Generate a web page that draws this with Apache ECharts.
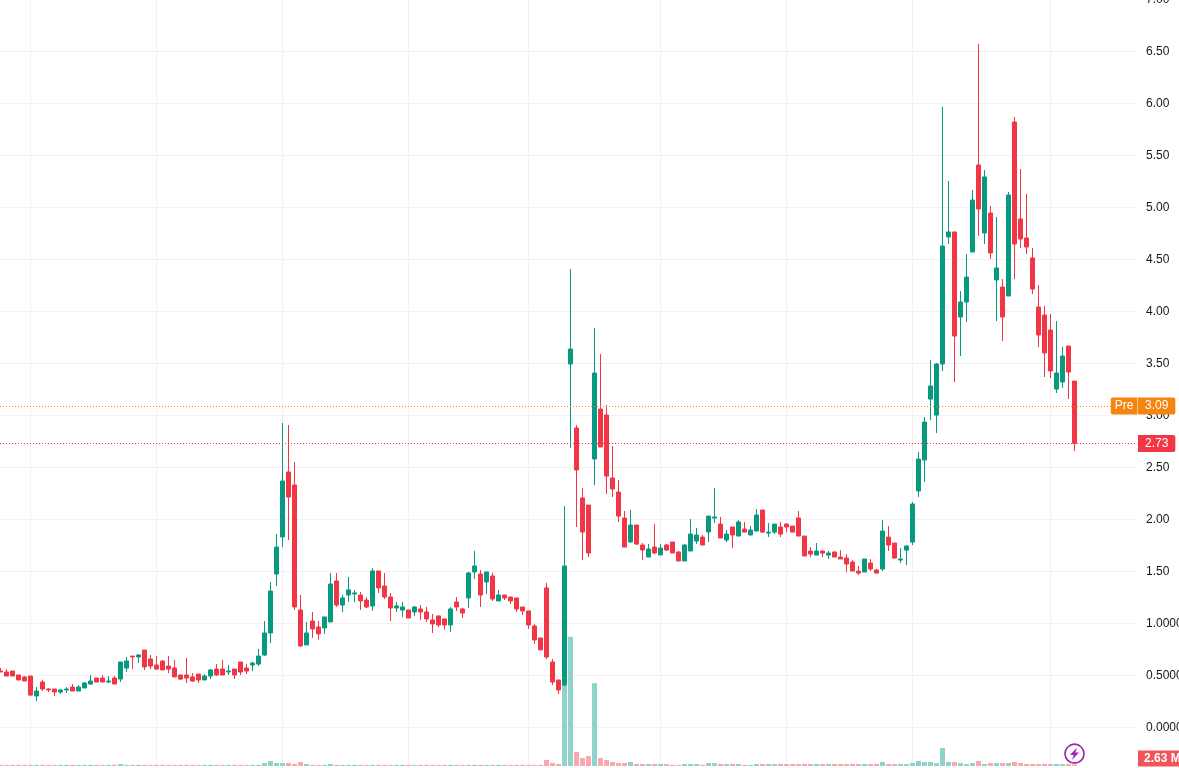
<!DOCTYPE html>
<html><head><meta charset="utf-8">
<style>html,body{margin:0;padding:0;background:#fff;overflow:hidden}#c{width:1179px;height:768px}</style>
<script src="https://cdn.jsdelivr.net/npm/echarts@6/dist/echarts.min.js"></script>
</head><body><div id="c"></div>
<script>
const opens=[.541,.532,.541,.503,.484,.493,.301,.435,.368,.368,.339,.359,.387,.349,.378,.416,.474,.474,.435,.474,
.464,.570,.685,.676,.743,.657,.599,.637,.589,.570,.503,.503,.484,.512,.455,.493,.560,.560,.532,.560,
.628,.570,.599,.608,.695,.907,1.474,1.83,2.455,2.33,1.128,.792,1.022,.965,.955,1.013,1.407,1.176,1.272,1.282,
1.272,1.224,1.167,1.503,1.359,1.253,1.147,1.128,1.128,1.109,1.138,1.109,1.032,1.071,1.042,.984,1.205,1.138,1.244,1.494,
1.474,1.398,1.455,1.215,1.272,1.253,1.244,1.157,1.119,.974,.859,1.34,.628,.455,.407,3.493,2.878,2.205,2.137,2.58,
3.06,3.003,2.397,2.262,2.012,1.781,1.945,1.753,1.637,1.733,1.657,1.753,1.782,1.685,1.599,1.695,1.791,1.829,1.878,2.012,
1.954,1.801,1.926,1.839,1.906,1.849,1.887,2.089,1.868,1.877,1.926,1.954,1.935,2.012,1.839,1.695,1.656,1.695,1.656,1.685,
1.637,1.627,1.589,1.502,1.493,1.579,1.512,1.522,1.829,1.772,1.608,1.704,1.781,2.272,2.57,3.156,3.002,3.493,4.715,4.763,
3.945,4.089,4.57,5.407,4.753,4.945,4.301,4.233,4.147,5.82,4.888,4.705,4.513,4.041,3.964,3.82,3.252,3.32,3.666,3.329];
const closes=[.532,.493,.493,.455,.445,.310,.349,.368,.359,.339,.359,.368,.349,.387,.426,.445,.435,.435,.445,.416,
.628,.637,.676,.695,.580,.589,.560,.551,.560,.484,.464,.474,.445,.455,.493,.551,.503,.503,.541,.503,
.532,.541,.618,.685,.907,1.31,1.733,2.368,2.214,1.157,.782,.907,.946,.898,1.061,1.378,1.176,1.244,1.321,1.292,
1.215,1.157,1.503,1.34,1.253,1.147,1.167,1.157,1.051,1.157,1.109,1.042,.994,.984,.984,1.138,1.157,1.099,1.484,1.551,
1.272,1.494,1.234,1.272,1.244,1.215,1.138,1.119,.984,.84,.744,.676,.436,.359,1.551,3.637,2.474,1.878,1.676,3.406,
2.695,2.416,2.291,2.031,1.733,1.945,1.762,1.705,1.714,1.676,1.724,1.705,1.676,1.599,1.753,1.858,1.849,1.753,2.031,2.022,
1.82,1.858,1.849,1.974,1.877,1.897,2.041,1.877,1.877,1.954,1.858,1.926,1.877,1.839,1.647,1.666,1.695,1.675,1.675,1.637,
1.618,1.57,1.502,1.483,1.618,1.522,1.483,1.887,1.752,1.627,1.618,1.743,2.147,2.579,2.935,3.281,3.493,4.628,4.763,3.762,
4.089,4.329,5.07,4.984,5.292,4.561,4.417,3.945,5.118,4.647,4.695,4.618,4.214,3.772,3.599,3.426,3.406,3.57,3.416,2.73];
const lows=[.532,.493,.493,.455,.445,.301,.253,.349,.339,.301,.320,.330,.349,.349,.378,.407,.435,.435,.426,.416,
.435,.532,.560,.618,.551,.560,.551,.551,.522,.484,.455,.426,.435,.426,.455,.464,.493,.503,.503,.464,
.503,.512,.541,.589,.685,.81,1.358,1.733,1.801,1.128,.773,.792,.859,.84,.898,1.013,1.157,1.109,1.205,1.205,
1.128,1.147,1.119,1.292,1.234,1.022,1.109,1.061,1.051,1.071,1.032,1.013,.907,.965,.936,.917,1.119,1.051,1.147,1.426,
1.157,1.282,1.215,1.215,1.224,1.186,1.109,1.08,.946,.801,.744,.657,.407,.321,.397,2.685,1.926,1.608,1.637,2.33,
2.695,2.243,2.214,1.974,1.733,1.781,1.753,1.608,1.637,1.666,1.657,1.695,1.676,1.599,1.599,1.695,1.762,1.753,1.782,1.964,
1.82,1.781,1.724,1.839,1.877,1.849,1.887,1.868,1.829,1.858,1.829,1.877,1.877,1.839,1.647,1.637,1.656,1.637,1.618,1.637,
1.618,1.493,1.502,1.464,1.493,1.502,1.483,1.502,1.695,1.627,1.579,1.56,1.752,2.214,2.358,2.954,2.829,3.426,4.647,3.32,
3.57,3.897,4.57,4.724,4.647,4.503,3.906,3.714,4.147,4.31,4.609,4.551,4.166,3.656,3.368,3.358,3.214,3.262,3.156,2.656];
const highs=[.570,.560,.541,.503,.493,.493,.387,.455,.378,.368,.368,.387,.416,.407,.435,.503,.474,.503,.493,.493,
.628,.676,.685,.705,.743,.695,.685,.647,.685,.647,.503,.666,.522,.512,.512,.560,.608,.647,.599,.560,
.628,.608,.628,.753,1.022,1.397,1.859,2.926,2.907,2.551,1.272,1.013,1.109,1.022,1.061,1.484,1.484,1.272,1.446,1.321,
1.301,1.253,1.532,1.503,1.484,1.292,1.205,1.205,1.128,1.167,1.176,1.157,1.09,1.071,1.042,1.157,1.253,1.148,1.494,1.696,
1.513,1.494,1.484,1.321,1.272,1.253,1.244,1.157,1.119,.994,.859,1.388,.657,.455,2.128,4.406,2.906,2.301,2.137,3.839,
3.589,3.099,2.705,2.378,2.08,2.089,1.945,1.772,1.762,1.955,1.762,1.762,1.782,1.695,1.762,2.003,1.916,1.849,2.031,2.301,
2.022,1.897,1.926,1.993,1.974,1.935,2.099,2.089,1.964,1.954,1.974,1.964,1.935,2.079,1.839,1.733,1.772,1.704,1.695,1.695,
1.704,1.666,1.608,1.551,1.618,1.618,1.522,1.993,1.935,1.772,1.724,1.752,2.166,2.647,2.983,3.531,3.502,5.965,5.253,4.763,
4.195,4.551,5.167,6.57,5.359,5.013,4.907,4.31,5.147,5.868,5.368,5.128,4.609,4.252,4.051,3.974,3.906,3.656,3.666,3.329];
const volumes=[2,2,2,2,2,2,2,2,2,2,2,2,2,2,2,2,2,2,2,2,
3.5,2,2,2,2,2,2,2,2,2,2,2,2,2,2,2,2,2,2,2,
2,2,2,2,5.2,8.8,5.2,5.2,5.2,3.5,7,3.5,2,2,2,3.5,2,2,2,2,
2,2,2,2,2,2,2,2,2,2,2,2,2,2,2,2,2,2,2,2,
2,2,2,2,2,2,2,2,2,2,2,10.5,5.2,3.5,149,226,24.5,14,17.5,145,
14,10.5,7,5.2,5.2,7,3.5,3.5,3.5,3.5,3.5,3.5,2,2,3.5,3.5,3.5,2,5.2,5.2,
3.5,3.5,3.5,3.5,2,2,3.5,3.5,3.5,3.5,3.5,3.5,3.5,3.5,3.5,3.5,3.5,3.5,3.5,3.5,
3.5,3.5,3.5,3.5,3.5,3.5,3.5,7,3.5,3.5,3.5,3.5,5.2,8.8,7,7,5.2,31.5,7,7,
5.2,3.5,5.2,8.8,3.5,5.2,5.2,5.2,5.2,7,5.2,3.5,3.5,3.5,3.5,3.5,3.5,3.5,3.5,2.63];
const emptySlots=10;
const gridBars=[5,26,47,68,88,110,131,152,175];
const lastPrice=2.73, prePrice=3.09, lastVolume=2.63;
const UP='#089981', DOWN='#f23645', UPV='#8fd4ca', DOWNV='#f9a9ae';
const categories=[...opens.map((_,i)=>'b'+i),...Array.from({length:emptySlots},(_,i)=>'e'+i)];
const candles=opens.map((o,i)=>[o,closes[i],lows[i],highs[i]]);
const volBars=volumes.map((v,i)=>({value:v,itemStyle:{color:closes[i]>=opens[i]?UPV:DOWNV}}));
const chart=echarts.init(document.getElementById('c'),null,{renderer:'canvas'});
const FONT='"Liberation Sans",Arial,sans-serif';
const hiddenLine={color:'rgba(0,0,0,0)',width:0};
chart.setOption({
  animation:false,backgroundColor:'#fff',
  grid:[{left:-2.5,width:1140,top:-0.7,height:780,outerBoundsMode:'none'},{left:-2.5,width:1140,top:566,height:200,outerBoundsMode:'none'}],
  xAxis:[
    {type:'category',data:categories,boundaryGap:true,axisLine:{show:false},axisTick:{show:false},axisLabel:{show:false},
     splitLine:{show:true,alignWithLabel:true,interval:(i)=>gridBars.includes(i),lineStyle:{color:'#f1f1f3',width:1}}},
    {type:'category',gridIndex:1,data:categories,boundaryGap:true,show:false}
  ],
  yAxis:[
    {type:'value',min:-0.5,max:7,interval:0.5,position:'right',axisLine:{show:false},axisTick:{show:false},
     splitLine:{lineStyle:{color:'#f2f2f3',width:1}},
     axisLabel:{margin:8.5,color:'#131722',fontSize:12,fontFamily:FONT,align:'left',
       formatter:(v)=>v<0?'':(v<=1?v.toFixed(4):v.toFixed(2))}},
    {type:'value',gridIndex:1,min:0,max:350,show:false}
  ],
  series:[
    {type:'bar',name:'Volume',xAxisIndex:1,yAxisIndex:1,data:volBars,barWidth:5,z:1,silent:true,
     markLine:{silent:true,symbol:'none',lineStyle:hiddenLine,
       data:[{yAxis:lastVolume,lineStyle:hiddenLine,label:{show:true,position:'end',distance:0.5,formatter:lastVolume+' M',offset:[0,-6],
         color:'#fff',backgroundColor:'#f0555c',fontFamily:FONT,fontSize:12,fontWeight:'bold',padding:[2,6,2,6],lineHeight:12}}]}},
    {type:'candlestick',name:'Price',data:candles,barWidth:5,z:3,silent:true,
     itemStyle:{color:UP,color0:DOWN,borderColor:UP,borderColor0:DOWN,borderWidth:1},
     markLine:{silent:true,symbol:'none',animation:false,
       data:[
        {yAxis:prePrice,lineStyle:{color:'#f68410',type:[1,2],dashOffset:0.5,width:1},
         label:{show:true,position:'end',distance:0.5,formatter:prePrice.toFixed(2),color:'#fff',backgroundColor:'#f68410',
           fontFamily:FONT,fontSize:12,borderRadius:[0,2,2,0],padding:[2.5,7,2.5,7],lineHeight:12}},
        {yAxis:prePrice,lineStyle:hiddenLine,
         label:{show:true,position:'insideEnd',distance:0,formatter:'Pre',color:'#fff',backgroundColor:'#f68410',
           fontFamily:FONT,fontSize:12,borderRadius:[2,0,0,2],padding:[2.5,4,2.5,4],lineHeight:12}},
        {yAxis:lastPrice,lineStyle:{color:DOWN,type:[1,2],dashOffset:0.5,width:1},
         label:{show:true,position:'end',distance:0.5,formatter:lastPrice.toFixed(2),color:'#fff',backgroundColor:DOWN,
           fontFamily:FONT,fontSize:12,borderRadius:[0,2,2,0],padding:[2.5,7,2.5,7],lineHeight:12}}
       ]}}
  ],
  graphic:[
    {type:'circle',z:100,shape:{cx:1074.5,cy:753.7,r:9.5},style:{fill:'#fff',stroke:'#9c27b0',lineWidth:1.7}},
    {type:'polygon',z:101,shape:{points:[[1077,747.5],[1070,755],[1073.7,755],[1072,760],[1079,752.5],[1075.3,752.5]]},style:{fill:'#9c27b0'}}
  ]
});
</script></body></html>
